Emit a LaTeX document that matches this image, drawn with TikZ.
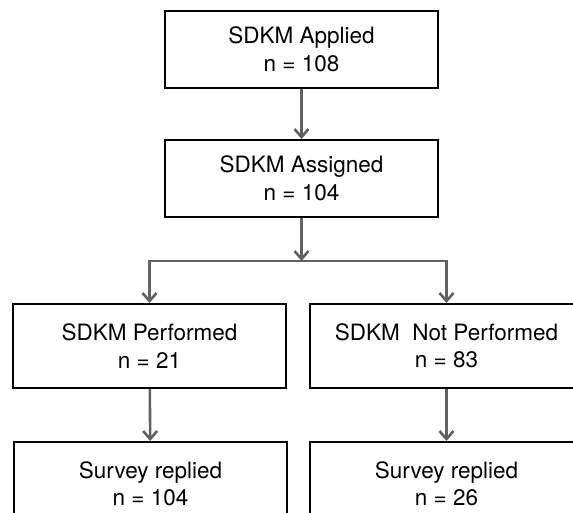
\documentclass[tikz,border=0pt]{standalone}
\usepackage{fontspec}
\setmainfont{TeX Gyre Heros}
\usetikzlibrary{arrows.meta,positioning}

\begin{document}
\begin{tikzpicture}[
x=1pt,y=-1pt,
MyBox/.style={draw=black,line width=2pt,minimum width=273pt,inner sep=0pt,align=center,font=\fontsize{22.5}{27.5}\selectfont},
MyArrow/.style={draw=black!62,line width=2.6pt,-{Straight Barb[length=8pt,width=14pt]}},
]
\useasboundingbox (0,0) rectangle (573,513);
\clip (0,0) rectangle (573,513);

% boxes
\node[MyBox,minimum height=77pt] (applied) at (301.5,49.5) {SDKM Applied\\n = 108};
\node[MyBox,minimum height=77pt] (assigned) at (301.5,178.5) {SDKM Assigned\\n = 104};
\node[MyBox,minimum height=84pt] (perf) at (149.5,346) {SDKM Performed\\n = 21};
\node[MyBox,minimum height=84pt] (notperf) at (446.5,346) {SDKM\ \ Not Performed\\n = 83};
\node[MyBox,minimum height=84pt] (survA) at (150.5,484) {Survey replied\\n = 104};
\node[MyBox,minimum height=84pt] (survB) at (446.5,484) {Survey replied\\n = 26};

\coordinate (split) at (301.5,261);

% arrows
\draw[MyArrow] (applied) -- (assigned);
\draw[MyArrow] (assigned) -- (split);
\draw[MyArrow] (split) -| (perf.north);
\draw[MyArrow] (split) -| (notperf.north);
\draw[MyArrow] (perf) -- (survA);
\draw[MyArrow] (notperf) -- (survB);

\end{tikzpicture}
\end{document}
